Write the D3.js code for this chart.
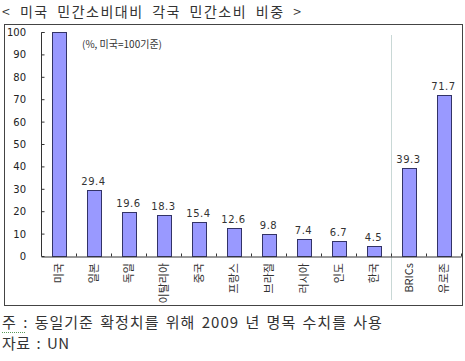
<!DOCTYPE html>
<html><head><meta charset="utf-8">
<script src="https://cdn.jsdelivr.net/npm/d3@7"></script>
<style>body{margin:0;background:#fff}svg{display:block}</style>
</head><body>
<script>
const categories = ["미국","일본","독일","이탈리아","중국","프랑스","브라질","러시아","인도","한국","BRICs","유로존"];
const values = [100, 29.4, 19.6, 18.3, 15.4, 12.6, 9.8, 7.4, 6.7, 4.5, 39.3, 71.7];
const yTicks = [0,10,20,30,40,50,60,70,80,90,100];
const title = "< 미국 민간소비대비 각국 민간소비 비중 >";
const unitNote = "(%, 미국=100기준)";
const note = "주 : 동일기준 확정치를 위해 2009 년 명목 수치를 사용";
const source = "자료 : UN";

const W = 465, H = 361;
const svg = d3.select("body").append("svg").attr("width", W).attr("height", H);
const font = "'Noto Sans CJK KR','Noto Sans',sans-serif";

// title
svg.append("text").attr("x", 2).attr("y", 17).attr("font-family", font).attr("font-size", 14)
  .attr("letter-spacing", 1.5).attr("word-spacing", 4).attr("fill", "#333").text(title);

// frame
svg.append("rect").attr("x", 4.5).attr("y", 24.5).attr("width", 458).attr("height", 281)
  .attr("fill", "none").attr("stroke", "#444").attr("stroke-width", 1);

const x = d3.scaleBand().domain(categories).range([41, 461]).paddingInner(0.6).paddingOuter(0.3);
const xb = d3.scaleBand().domain(categories).range([41, 461]);
const y = d3.scaleLinear().domain([0, 100]).range([256, 32]);

// separator line
svg.append("line").attr("x1", xb("BRICs") + 0.5).attr("x2", xb("BRICs") + 0.5)
  .attr("y1", 35).attr("y2", 300).attr("stroke", "#c9d8d6").attr("stroke-width", 1);

// y axis
const yAxis = d3.axisRight(y).tickValues(yTicks).tickSize(3).tickFormat("");
const gy = svg.append("g").attr("transform", "translate(41.5,0)").call(yAxis);
gy.selectAll("path,line").attr("stroke", "#333");
gy.select(".domain").attr("d", `M3,${y(100)+0.5}H0V${y(0)+0.5}`);
svg.append("g").selectAll("text").data(yTicks).join("text")
  .attr("x", 26).attr("y", d => y(d) + 4).attr("text-anchor", "end")
  .attr("font-family", "'DejaVu Sans',sans-serif").attr("font-size", 10).attr("fill", "#222")
  .text(d => d);

// bars
svg.append("g").selectAll("rect").data(values).join("rect")
  .attr("x", (d, i) => Math.round(x(categories[i])) + 0.5)
  .attr("y", d => Math.round(y(d)) + 0.5)
  .attr("width", Math.round(x.bandwidth()))
  .attr("height", d => Math.round(y(0)) - Math.round(y(d)))
  .attr("fill", "#9999ff").attr("stroke", "#333366").attr("stroke-width", 1);

// x axis
const xAxis = d3.axisTop(xb).tickSize(0).tickFormat("");
const gx = svg.append("g").attr("transform", `translate(0,${y(0)+0.5})`).call(xAxis);
gx.select(".domain").attr("stroke", "#333");
gx.selectAll(".tick").remove();
gx.selectAll("line.sep").data(d3.range(1, categories.length + 1)).join("line").attr("class", "sep")
  .attr("x1", i => 41 + i * xb.step() + 0.5).attr("x2", i => 41 + i * xb.step() + 0.5)
  .attr("y1", 0).attr("y2", -3).attr("stroke", "#333");

// value labels
svg.append("g").selectAll("text").data(values.slice(1)).join("text")
  .attr("x", (d, i) => xb(categories[i + 1]) + xb.bandwidth() / 2)
  .attr("y", d => y(d) - 5).attr("text-anchor", "middle")
  .attr("font-family", "'DejaVu Sans',sans-serif").attr("font-size", 10).attr("letter-spacing", 0.5)
  .attr("fill", "#333").text(d => d.toFixed(1));

// category labels
svg.append("g").selectAll("text").data(categories).join("text")
  .attr("transform", d => `translate(${xb(d) + xb.bandwidth() / 2 + 4},263) rotate(-90)`)
  .attr("text-anchor", "end").attr("font-family", font).attr("font-size", 11)
  .attr("fill", "#333").text(d => d);

// unit note
svg.append("text").attr("x", 82).attr("y", 48).attr("font-family", font).attr("font-size", 10)
  .attr("fill", "#333").text(unitNote);

// footnotes
svg.append("text").attr("x", 2).attr("y", 328).attr("font-family", font).attr("font-size", 15)
  .attr("letter-spacing", 1).attr("word-spacing", 2).attr("fill", "#333").text(note);
svg.append("line").attr("x1", 2).attr("x2", 25).attr("y1", 332.5).attr("y2", 332.5)
  .attr("stroke", "#5a9a5a").attr("stroke-dasharray", "1,1");
svg.append("text").attr("x", 2).attr("y", 349).attr("font-family", font).attr("font-size", 15)
  .attr("letter-spacing", 0.5).attr("word-spacing", 2).attr("fill", "#333").text(source);
</script>
</body></html>
